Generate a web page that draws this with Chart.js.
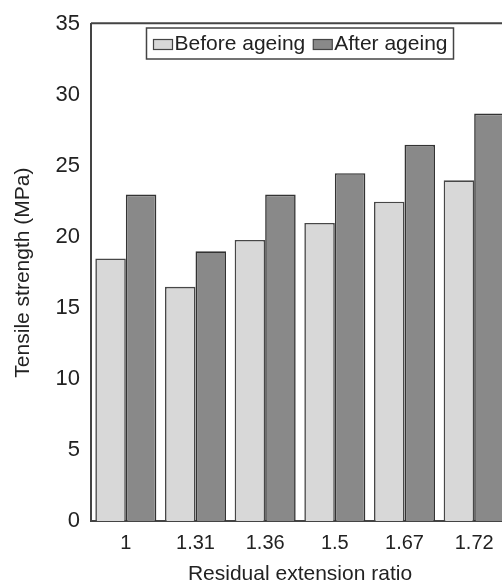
<!DOCTYPE html>
<html>
<head>
<meta charset="utf-8">
<script src="https://cdn.jsdelivr.net/npm/chart.js@4"></script>
<style>
    html, body { margin: 0; padding: 0; background: #fff; overflow: hidden; }
    #wrap { width: 520px; height: 582px; }
</style>
</head>
<body>
<div id="wrap"><canvas id="barChart" width="520" height="582"></canvas></div>
<script>
const categories = ["1", "1.31", "1.36", "1.5", "1.67", "1.72"];
const beforeAgeing = [18.5, 16.5, 19.8, 21.0, 22.5, 24.0];
const afterAgeing = [23.0, 19.0, 23.0, 24.5, 26.5, 28.7];
const seriesNames = ["Before ageing", "After ageing"];

const FONT = "'Liberation Sans', Arial, Helvetica, sans-serif";
const TEXT = "#222";
const AXIS = "#444";

// frame on top of the plot + boxed legend inside it
const framePlugin = {
    id: "frame",
    afterDraw(chart) {
        const { ctx, chartArea } = chart;
        ctx.save();
        ctx.strokeStyle = AXIS;
        ctx.lineWidth = 2;
        ctx.beginPath();
        ctx.moveTo(chartArea.left, chartArea.top - 1);
        ctx.lineTo(chartArea.right, chartArea.top - 1);
        ctx.lineTo(chartArea.right, chartArea.bottom);
        ctx.stroke();

        ctx.font = "21px " + FONT;
        const sw = 19, sh = 10, padL = 7, padR = 6, gap = 2, itemGap = 8;
        const ds = chart.data.datasets;
        let total = padL + padR;
        ds.forEach((d, i) => {
            total += sw + gap + ctx.measureText(d.label).width;
            if (i < ds.length - 1) total += itemGap;
        });
        const boxTop = 28, boxH = 31;
        const cx = (chartArea.left + chartArea.right) / 2;
        const boxLeft = cx - total / 2;
        ctx.fillStyle = "#fff";
        ctx.fillRect(boxLeft, boxTop, total, boxH);
        ctx.lineWidth = 1.5;
        ctx.strokeStyle = "#444";
        ctx.strokeRect(boxLeft, boxTop, total, boxH);

        let x = boxLeft + padL;
        const midY = boxTop + boxH / 2 + 1;
        ds.forEach((d) => {
            ctx.fillStyle = d.backgroundColor;
            ctx.fillRect(x, midY - sh / 2, sw, sh);
            ctx.lineWidth = 1.2;
            ctx.strokeStyle = "#444";
            ctx.strokeRect(x, midY - sh / 2, sw, sh);
            x += sw + gap;
            ctx.fillStyle = TEXT;
            ctx.textBaseline = "middle";
            ctx.textAlign = "left";
            ctx.fillText(d.label, x, midY);
            x += ctx.measureText(d.label).width + itemGap;
        });
        ctx.restore();
    }
};

function drawChart() {
    const ctx = document.getElementById("barChart");

    new Chart(ctx, {
        type: "bar",
        data: {
            labels: categories,
            datasets: [{
                label: seriesNames[0],
                data: beforeAgeing,
                backgroundColor: "#d8d8d8",
                borderColor: "#474747",
                borderWidth: 1.6
            }, {
                label: seriesNames[1],
                data: afterAgeing,
                backgroundColor: "#898989",
                borderColor: "#333",
                borderWidth: 1.6
            }]
        },
        options: {
            responsive: false,
            animation: false,
            layout: {
                padding: { left: 0, top: 20, right: 11, bottom: 0 }
            },
            categoryPercentage: 0.876,
            barPercentage: 1.0,
            plugins: {
                legend: { display: false },
                tooltip: { enabled: false }
            },
            scales: {
                x: {
                    grid: { display: false, drawTicks: false },
                    border: { display: true, color: AXIS, width: 2 },
                    ticks: {
                        color: TEXT,
                        padding: 10,
                        font: { family: FONT, size: 20 }
                    },
                    title: {
                        display: true,
                        text: "Residual extension ratio",
                        color: TEXT,
                        padding: 0,
                        font: { family: FONT, size: 21, lineHeight: 0.72 }
                    },
                    afterFit(scale) { scale.height = 61; }
                },
                y: {
                    min: 0,
                    max: 35,
                    grid: { display: false, drawTicks: false },
                    border: { display: true, color: AXIS, width: 2 },
                    ticks: {
                        stepSize: 5,
                        color: TEXT,
                        padding: 11,
                        font: { family: FONT, size: 22 }
                    },
                    title: {
                        display: true,
                        text: "Tensile strength (MPa)",
                        color: TEXT,
                        padding: { top: 11, bottom: 0 },
                        font: { family: FONT, size: 21 }
                    },
                    afterFit(scale) { scale.width = 91; }
                }
            }
        },
        plugins: [framePlugin]
    });
}

document.addEventListener("DOMContentLoaded", () => {
    drawChart();
});
</script>
</body>
</html>
